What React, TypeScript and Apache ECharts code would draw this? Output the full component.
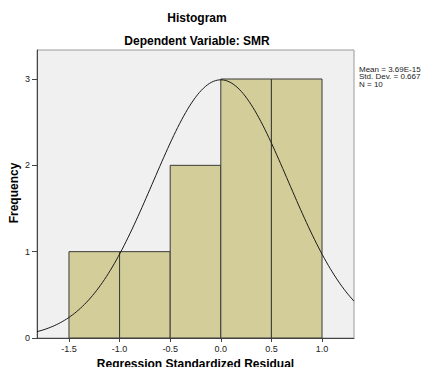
import React, { useEffect, useRef } from "react";
import * as echarts from "echarts";

const binStarts = [-1.5, -1.0, -0.5, 0.0, 0.5];
const binWidth = 0.5;
const frequencies = [1, 1, 2, 3, 3];
const xTickValues = [-1.5, -1.0, -0.5, 0.0, 0.5, 1.0];
const yTickValues = [0, 1, 2, 3];
const statMean = 3.69e-15;
const statSD = 0.667;
const statN = 10;
const legendLines = ["Mean = 3.69E-15", "Std. Dev. = 0.667", "N = 10"];

const X_MIN = -1.816;
const X_MAX = 1.316;
const Y_MAX = 3.336;

function normalCurve() {
  const pts: number[][] = [];
  const steps = 160;
  for (let i = 0; i <= steps; i++) {
    const x = X_MIN + ((X_MAX - X_MIN) * i) / steps;
    const z = (x - statMean) / statSD;
    const y = (statN * binWidth * Math.exp(-0.5 * z * z)) / (statSD * Math.sqrt(2 * Math.PI));
    pts.push([x, y]);
  }
  return pts;
}

export default function App() {
  const ref = useRef<HTMLDivElement>(null);
  useEffect(() => {
    if (!ref.current) return;
    const chart = echarts.init(ref.current, undefined, { renderer: "svg" });
    const font = "'Liberation Sans', Arial, sans-serif";
    const barData = binStarts.map((s, i) => [s, s + binWidth, frequencies[i]]);
    chart.setOption({
      animation: false,
      textStyle: { fontFamily: font },
      title: [
        {
          text: "Histogram",
          left: 197,
          top: 12,
          padding: 0,
          textAlign: "center",
          textStyle: { fontSize: 12, fontWeight: "bold", color: "#000", fontFamily: font },
        },
        {
          text: "Dependent Variable: SMR",
          left: 197,
          top: 35,
          padding: 0,
          textAlign: "center",
          textStyle: { fontSize: 12, fontWeight: "bold", color: "#000", fontFamily: font },
        },
      ],
      grid: {
        left: 37,
        top: 50,
        width: 317,
        height: 288,
        show: true,
        outerBoundsMode: "none",
        containLabel: false,
        backgroundColor: "#f0f0f0",
        borderColor: "#9a9a9a",
        borderWidth: 1,
      },
      xAxis: {
        type: "value",
        min: X_MIN,
        max: X_MAX,
        name: "Regression Standardized Residual",
        nameLocation: "middle",
        nameGap: 19,
        nameTextStyle: { fontSize: 12, fontWeight: "bold", color: "#000", fontFamily: font },
        axisLine: { show: true, onZero: false, lineStyle: { color: "#444", width: 1 } },
        axisTick: { show: true, length: 4, customValues: xTickValues, lineStyle: { color: "#444" } },
        axisLabel: {
          customValues: xTickValues,
          fontSize: 9,
          color: "#222",
          margin: 6,
          formatter: (v: number) => v.toFixed(1),
        },
        splitLine: { show: false },
      },
      yAxis: {
        type: "value",
        min: 0,
        max: Y_MAX,
        axisLine: { show: true, onZero: false, lineStyle: { color: "#444", width: 1 } },
        axisTick: { show: true, length: 5, customValues: yTickValues, lineStyle: { color: "#444" } },
        axisLabel: { customValues: yTickValues, fontSize: 9, color: "#222", margin: 7 },
        splitLine: { show: false },
      },
      graphic: [
        {
          type: "text",
          x: 14,
          y: 193,
          rotation: Math.PI / 2,
          style: {
            text: "Frequency",
            fontSize: 12,
            fontWeight: "bold",
            fill: "#000",
            fontFamily: font,
            align: "center",
            verticalAlign: "middle",
          },
        },
        {
          type: "text",
          left: 359,
          top: 65,
          style: {
            text: legendLines.join("\n"),
            fontSize: 8,
            lineHeight: 7.5,
            fill: "#222",
            fontFamily: font,
          },
        },
      ],
      series: [
        {
          type: "custom",
          data: barData,
          encode: { x: [0, 1], y: 2 },
          renderItem: (params: any, api: any) => {
            const p0 = api.coord([api.value(0), 0]);
            const p1 = api.coord([api.value(1), api.value(2)]);
            return {
              type: "rect",
              shape: { x: p0[0], y: p1[1], width: p1[0] - p0[0], height: p0[1] - p1[1] },
              style: { fill: "#d3ce99", stroke: "#3a3a3a", lineWidth: 1 },
            };
          },
          z: 2,
        },
        {
          type: "line",
          data: normalCurve(),
          showSymbol: false,
          smooth: false,
          lineStyle: { color: "#1a1a1a", width: 1 },
          z: 3,
        },
      ],
    });
    return () => chart.dispose();
  }, []);
  return <div ref={ref} style={{ width: 424, height: 367, position: "absolute", left: 0, top: 0 }} />;
}
